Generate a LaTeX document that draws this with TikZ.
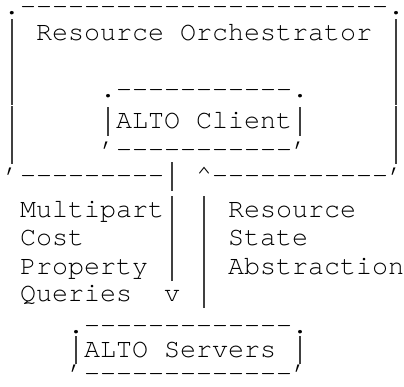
\documentclass[tikz,border=0pt]{standalone}
\usepackage{fontspec}
\setmonofont{TeX Gyre Cursor}
\newcommand\vb{\makebox[0.6em]{\textcolor{black!75}{\rule[-7pt]{1.5pt}{28.5pt}}}}
\newcommand\tk{\raisebox{0.45em}{,}}
\begin{document}
\begin{tikzpicture}[x=1pt,y=-1pt,
  ch/.style={font=\ttfamily\fontsize{26.67pt}{28pt}\selectfont,inner sep=0pt,outer sep=0pt,anchor=base west}]
\useasboundingbox[fill=white] (0,0) rectangle (404,387);
% Resource Orchestrator box
\node[ch] (o0)  at (4,14.5) {.-----------------------.};
\node[ch] (o1l) at (4,41) {\vb};
\node[ch] (o1)  at (36,41) {Resource Orchestrator};
\node[ch] (o1r) at (388,41) {\vb};
\node[ch] (o2l) at (4,69.5) {\vb};
\node[ch] (o2r) at (388,69.5) {\vb};
\node[ch] (o3l) at (4,98) {\vb};
\node[ch] (o3r) at (388,98) {\vb};
\node[ch] (o4l) at (4,128) {\vb};
\node[ch] (o4r) at (388,128) {\vb};
\node[ch] (o5l) at (4,157) {\vb};
\node[ch] (o5r) at (388,157) {\vb};
\node[ch] (o6)  at (4,184) {\tk---------\vb};
\node[ch] (o6b) at (196,184) {\symbol{94}-----------\tk};
% ALTO Client box
\node[ch] (c0) at (100,98) {.-----------.};
\node[ch] (c1) at (100,129) {\vb ALTO Client\vb};
\node[ch] (c2) at (100,158) {\tk-----------\tk};
% arrows and labels
\node[ch] (m7) at (20,218) {Multipart\vb};
\node[ch] (p7) at (196,218) {\vb};
\node[ch] (s7) at (228,218) {Resource};
\node[ch] (m8) at (20,246) {Cost};
\node[ch] (d8) at (164,246) {\vb};
\node[ch] (p8) at (196,246) {\vb};
\node[ch] (s8) at (228,246) {State};
\node[ch] (m9) at (20,274) {Property};
\node[ch] (d9) at (164,274) {\vb};
\node[ch] (p9) at (196,274) {\vb};
\node[ch] (s9) at (228,274) {Abstraction};
\node[ch] (m10) at (20,301) {Queries};
\node[ch] (v10) at (164,301) {v};
\node[ch] (p10) at (196,301) {\vb};
% ALTO Servers box
\node[ch] (a0) at (68,333) {.-------------.};
\node[ch] (a1) at (68,357) {\vb ALTO Servers};
\node[ch] (a1r) at (292,357) {\vb};
\node[ch] (a2) at (68,381) {\tk-------------\tk};
\end{tikzpicture}
\end{document}
